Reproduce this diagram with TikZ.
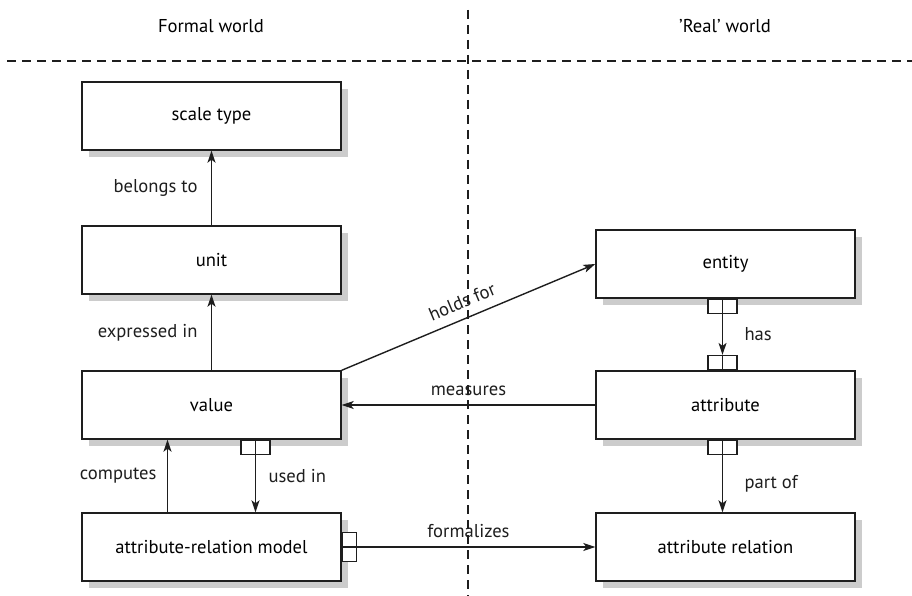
\documentclass[tikz,border=0pt]{standalone}
\usepackage{fontspec}
\setmainfont{PT Sans}
\usetikzlibrary{arrows.meta, shadows, positioning}
\definecolor{boxline}{HTML}{1E1E1E}
\definecolor{shadowgray}{HTML}{CCCCCC}

\begin{document}
\begin{tikzpicture}[x=1pt, y=-1pt,
    box/.style={rectangle, draw=boxline, line width=1.4pt, fill=white, minimum width=259pt, minimum height=68pt, font=\fontsize{18.6}{22}\selectfont, drop shadow={shadow xshift=7pt, shadow yshift=-7pt, fill=shadowgray, opacity=1}},
    vport/.style={rectangle, draw=boxline, line width=1.4pt, fill=white, inner sep=0pt, minimum width=29pt, minimum height=14pt, path picture={\draw[line width=1.4pt, boxline] (path picture bounding box.north) -- (path picture bounding box.south);}},
    hport/.style={rectangle, draw=boxline, line width=1.4pt, fill=white, inner sep=0pt, minimum width=14pt, minimum height=29pt, path picture={\draw[line width=1.4pt, boxline] (path picture bounding box.west) -- (path picture bounding box.east);}},
    arrow/.style={-{Stealth[length=12pt, width=8pt, inset=3pt]}, line width=1.4pt, color=boxline},
    lbl/.style={font=\fontsize{18.6}{22}\selectfont},
    divider/.style={line width=1.4pt, color=boxline, dash pattern=on 9pt off 6pt}
]
\useasboundingbox (0,0) rectangle (912,596);

% Worlds
\node[lbl] (formal) at (211,26) {Formal world};
\node[lbl] (real) at (725,26) {'Real' world};
\coordinate (hleft) at (7,61);
\coordinate (hright) at (912,61);
\coordinate (vtop) at (468,10);
\coordinate (vbottom) at (468,596);
\draw[divider] (hleft) -- (hright);
\draw[divider] (vtop) -- (vbottom);

% Formal side
\node[box] (scale) at (211.5,116) {scale type};
\node[box] (unit) at (211.5,260) {unit};
\node[box] (value) at (211.5,405) {value};
\node[box] (model) at (211.5,547) {attribute-relation model};

% Real side
\node[box] (entity) at (725.5,264) {entity};
\node[box] (attr) at (725.5,405) {attribute};
\node[box] (relation) at (725.5,547) {attribute relation};

% Ports
\node[vport, anchor=north] (valueport) at ([xshift=44pt]value.south) {};
\node[vport, anchor=north] (entityport) at ([xshift=-3pt]entity.south) {};
\node[vport, anchor=south] (attrtop) at ([xshift=-3pt]attr.north) {};
\node[vport, anchor=north] (attrbot) at ([xshift=-3pt]attr.south) {};
\node[hport, anchor=west] (modelport) at (model.east) {};

% Links
\draw[arrow] (unit) -- (scale) node[midway, left=10pt, lbl] {belongs to};
\draw[arrow] (value) -- (unit) node[midway, left=10pt, lbl] {expressed in};
\draw[arrow] ([xshift=-44pt]model.north) -- ([xshift=-44pt]value.south) node[midway, left=7pt, lbl] {computes};
\draw[arrow] (valueport.north) -- (valueport |- model.north) node[midway, right=9pt, lbl] {used in};
\draw[arrow] (value.north east) -- (entity.west) node[midway, above=6pt, sloped, lbl] {holds for};
\draw[arrow] (attr) -- (value) node[midway, above=5pt, lbl] {measures};
\draw[arrow] (entityport) -- (attrtop) node[midway, right=18pt, lbl] {has};
\draw[arrow] (attrbot) -- (attrbot |- relation.north) node[midway, right=18pt, lbl] {part of};
\draw[arrow] (model) -- (relation) node[midway, above=5pt, lbl] {formalizes};

\end{tikzpicture}
\end{document}
